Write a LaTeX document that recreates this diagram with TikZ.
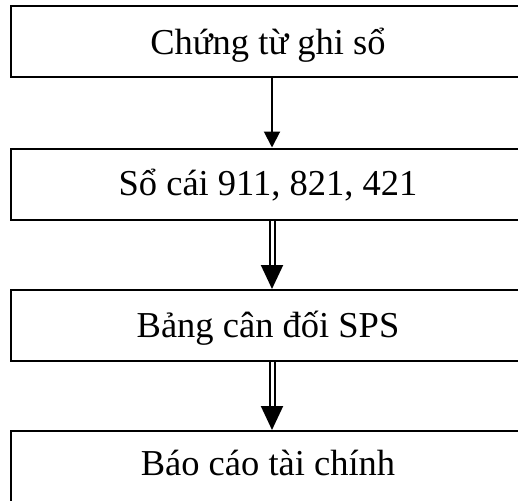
\documentclass[tikz,border=0pt]{standalone}
\usepackage{fontspec}
\setmainfont{Liberation Serif}
\usetikzlibrary{arrows.meta}
\begin{document}
\begin{tikzpicture}[x=1pt,y=-1pt,
  box/.style={draw=black, line width=2pt, minimum width=514pt, minimum height=71pt, inner sep=0pt},
  lbl/.style={font=\fontsize{36.5}{40}\selectfont, anchor=base, inner sep=0pt},
  single/.style={line width=2pt, -{Triangle[length=16pt,width=16pt]}},
  twin/.style={double, double distance=3pt, line width=2pt, -{Triangle[length=24pt,width=22pt]}}]
\useasboundingbox (0,0) rectangle (518,500);
\clip (0,0) rectangle (518,500);
% stacked boxes, the right edges run past the page
\node[box] (b1) at (268,42) {};
\node[box] (b2) at (268,184) {};
\node[box] (b3) at (268,325.5) {};
\node[box] (b4) at (268,466.5) {};
% box captions
\node[lbl] (t1) at (268,55) {Chứng từ ghi sổ};
\node[lbl] (t2) at (268,195) {Sổ cái 911, 821, 421};
\node[lbl] (t3) at (268,337) {Bảng cân đối SPS};
\node[lbl] (t4) at (268,475) {Báo cáo tài chính};
% connectors
\draw[single] ([xshift=4pt]b1.south) -- ([xshift=4pt]b2.north);
\draw[twin] ([xshift=4pt]b2.south) -- ([xshift=4pt]b3.north);
\draw[twin] ([xshift=4pt]b3.south) -- ([xshift=4pt]b4.north);
\end{tikzpicture}
\end{document}
